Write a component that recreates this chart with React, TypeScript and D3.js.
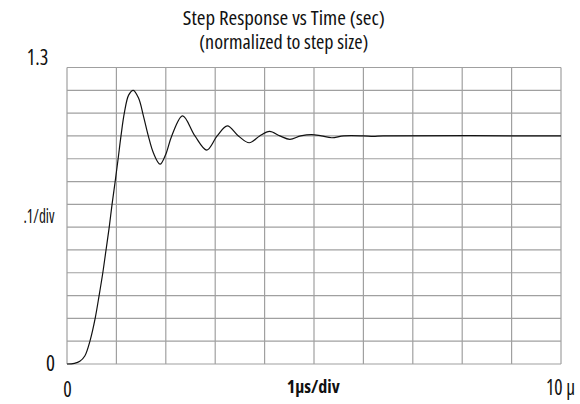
import React from "react";
import * as d3 from "d3";

const timeUs = [0, 0.15, 0.26, 0.36, 0.47, 0.57, 0.65, 0.725, 0.79, 0.855, 0.912, 0.975, 1.035, 1.093, 1.16, 1.25, 1.342, 1.45, 1.55, 1.646, 1.75, 1.883, 2.0, 2.12, 2.34, 2.59, 2.83, 3.04, 3.245, 3.47, 3.69, 3.9, 4.1, 4.31, 4.51, 4.73, 4.95, 5.15, 5.36, 5.6, 6.0, 6.2, 6.4, 10];
const response = [0, 0.003, 0.012, 0.035, 0.105, 0.2, 0.3, 0.4, 0.5, 0.6, 0.7, 0.8, 0.9, 1.0, 1.1, 1.18, 1.2, 1.165, 1.085, 1.0, 0.925, 0.876, 0.92, 1.0, 1.088, 1.0, 0.938, 1.0, 1.044, 1.0, 0.97, 1.0, 1.02, 1.0, 0.985, 1.0, 1.006, 1.0, 0.992, 1.0, 1.0, 0.998, 1.0, 1.0];

const xDivs = [0, 1, 2, 3, 4, 5, 6, 7, 8, 9, 10];
const yDivs = [0, 0.1, 0.2, 0.3, 0.4, 0.5, 0.6, 0.7, 0.8, 0.9, 1.0, 1.1, 1.2, 1.3];

const titleLines = ["Step Response vs Time (sec)", "(normalized to step size)"];
const yLabels = { top: "1.3", mid: ".1/div", bottom: "0" };
const xLabels = { left: "0", mid: "1\u00b5s/div", right: "10 \u00b5" };

const W = 580;
const H = 404;
const FONT = "'Open Sans', 'DejaVu Sans Condensed', 'Liberation Sans Narrow', sans-serif";

export default function App() {
  const x = d3.scaleLinear().domain([0, 10]).range([67, 561]);
  const y = d3.scaleLinear().domain([0, 1.3]).range([364, 67.5]);
  const pts = timeUs.map((t, i) => [t, response[i]] as [number, number]);
  const line = d3
    .line<[number, number]>()
    .x((d) => x(d[0]))
    .y((d) => y(d[1]))
    .curve(d3.curveCatmullRom.alpha(0.5));

  const textStyle: React.CSSProperties = { fontFamily: FONT, fontStretch: "75%", fontWeight: 500 };

  return (
    <svg width={W} height={H} style={{ position: "absolute", left: 0, top: 0, background: "#fff" }}>
      <rect x={0} y={0} width={W} height={H} fill="#fff" />
      <g stroke="#a0a0a0" strokeWidth={1.2}>
        {yDivs.map((v) => (
          <line key={"h" + v} x1={x(0)} x2={x(10)} y1={y(v)} y2={y(v)} />
        ))}
        {xDivs.map((v) => (
          <line key={"v" + v} x1={x(v)} x2={x(v)} y1={y(0)} y2={y(1.3)} />
        ))}
      </g>
      <path d={line(pts) || ""} fill="none" stroke="#111" strokeWidth={1.2} />
      <g style={textStyle} fill="#111">
        <text x={283.8} y={25} fontSize={19} textAnchor="middle" textLength={202} lengthAdjust="spacingAndGlyphs">
          {titleLines[0]}
        </text>
        <text x={283.8} y={49} fontSize={19} textAnchor="middle" textLength={169} lengthAdjust="spacingAndGlyphs">
          {titleLines[1]}
        </text>
        <text x={48.3} y={65} fontSize={21} textAnchor="end" textLength={21.6} lengthAdjust="spacingAndGlyphs">
          {yLabels.top}
        </text>
        <text x={54.5} y={223} fontSize={20} textAnchor="end" textLength={31} lengthAdjust="spacingAndGlyphs">
          {yLabels.mid}
        </text>
        <text x={55} y={370.5} fontSize={21} textAnchor="end" textLength={9} lengthAdjust="spacingAndGlyphs">
          {yLabels.bottom}
        </text>
        <text x={67.5} y={396.5} fontSize={21} textAnchor="middle" textLength={8.5} lengthAdjust="spacingAndGlyphs">
          {xLabels.left}
        </text>
        <text x={313.3} y={392.5} fontSize={18} fontWeight={700} textAnchor="middle" textLength={53} lengthAdjust="spacingAndGlyphs">
          {xLabels.mid}
        </text>
        <text x={546} y={395} fontSize={21} textLength={29} lengthAdjust="spacingAndGlyphs">
          {xLabels.right}
        </text>
      </g>
    </svg>
  );
}
